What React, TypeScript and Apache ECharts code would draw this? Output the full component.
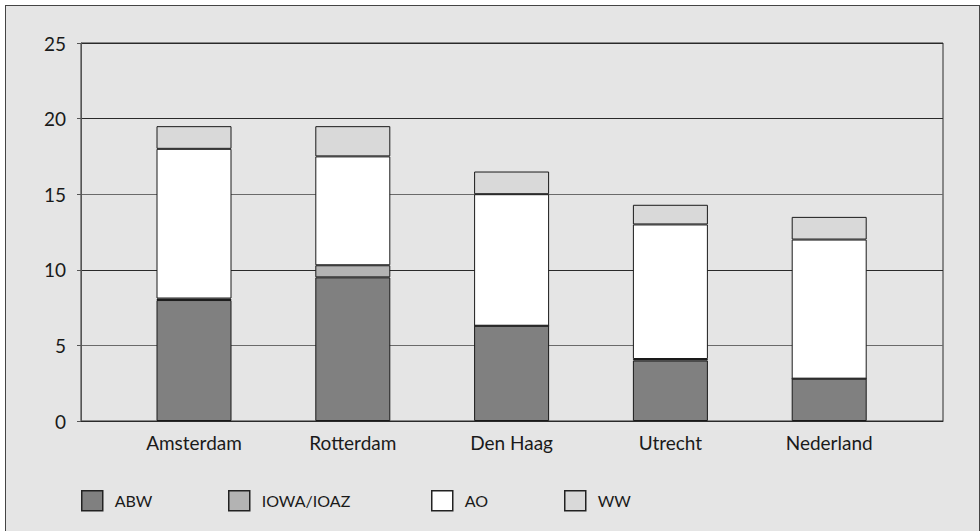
import React, { useEffect, useRef } from "react";
import * as echarts from "echarts";

const categories = ["Amsterdam", "Rotterdam", "Den Haag", "Utrecht", "Nederland"];
const abw = [8.0, 9.5, 6.3, 4.0, 2.8];
const iowa = [0.1, 0.8, 0, 0.1, 0];
const ao = [9.9, 7.2, 8.7, 8.9, 9.2];
const ww = [1.5, 2.0, 1.5, 1.3, 1.5];
const seriesNames = ["ABW", "IOWA/IOAZ", "AO", "WW"];
const seriesColors = ["#808080", "#b3b3b3", "#ffffff", "#d9d9d9"];
const yMin = 0;
const yMax = 25;
const yStep = 5;

const FONT = "Lato, 'Open Sans', sans-serif";
const legendLefts = [81, 228, 431, 564];

export default function App() {
  const ref = useRef<HTMLDivElement>(null);
  useEffect(() => {
    if (!ref.current) return;
    const chart = echarts.init(ref.current, undefined, { renderer: "svg" });
    const values = [abw, iowa, ao, ww];
    const option: any = {
      animation: false,
      backgroundColor: "transparent",
      textStyle: { fontFamily: FONT },
      grid: [
        {
          left: 81,
          right: 37,
          top: 43,
          bottom: 110,
          show: true,
          borderColor: "#2a2a2a",
          borderWidth: 1,
          backgroundColor: "transparent",
        },
        { left: 114.6, width: 794, top: 43, bottom: 110 },
      ],
      xAxis: [
        {
          gridIndex: 0,
          type: "category",
          data: [""],
          axisLine: { show: true, lineStyle: { color: "#2a2a2a", width: 1 } },
          axisTick: { show: false },
          axisLabel: { show: false },
          splitLine: { show: false },
        },
        {
          gridIndex: 1,
          type: "category",
          data: categories,
          axisLine: { show: false },
          axisTick: { show: false },
          axisLabel: {
            margin: 12,
            fontSize: 19,
            color: "#1a1a1a",
            fontFamily: FONT,
          },
        },
      ],
      yAxis: [
        {
          gridIndex: 0,
          type: "value",
          min: yMin,
          max: yMax,
          interval: yStep,
          axisLine: { show: true, lineStyle: { color: "#555", width: 1 } },
          axisTick: { show: true, length: 4, lineStyle: { color: "#555" } },
          axisLabel: { margin: 15, fontSize: 19, color: "#1a1a1a", fontFamily: FONT },
          splitLine: {
            show: true,
            lineStyle: {
              color: ["#2a2a2a", "#6a6a6a", "#2a2a2a", "#6a6a6a", "#2a2a2a", "#2a2a2a"],
              width: 1,
            },
          },
        },
        {
          gridIndex: 1,
          type: "value",
          min: yMin,
          max: yMax,
          interval: yStep,
          show: false,
          splitLine: { show: false },
        },
      ],
      legend: seriesNames.map((name, i) => ({
        data: [name],
        left: legendLefts[i],
        top: 490,
        padding: 0,
        itemWidth: 21,
        itemHeight: 20,
        icon: "rect",
        itemStyle: { borderColor: "#222", borderWidth: 1.5 },
        textStyle: {
          fontSize: 16,
          color: "#1a1a1a",
          fontFamily: FONT,
          padding: [0, 0, 0, 7],
        },
        selectedMode: false,
      })),
      series: seriesNames.map((name, i) => ({
        name,
        type: "bar",
        stack: "total",
        xAxisIndex: 1,
        yAxisIndex: 1,
        barWidth: 75,
        data: values[i],
        itemStyle: { color: seriesColors[i], borderColor: "#1a1a1a", borderWidth: 1 },
        emphasis: { disabled: true },
      })),
    };
    chart.setOption(option);
    return () => chart.dispose();
  }, []);

  return (
    <div style={{ position: "fixed", left: 0, top: 0, width: 980, height: 531, background: "#fff", overflow: "hidden" }}>
      <div
        style={{
          position: "absolute",
          left: 5,
          top: 5,
          width: 973,
          height: 540,
          border: "1px solid #444",
          background: "#e5e5e5",
        }}
      />
      <div ref={ref} style={{ position: "absolute", left: 0, top: 0, width: 980, height: 531 }} />
    </div>
  );
}
